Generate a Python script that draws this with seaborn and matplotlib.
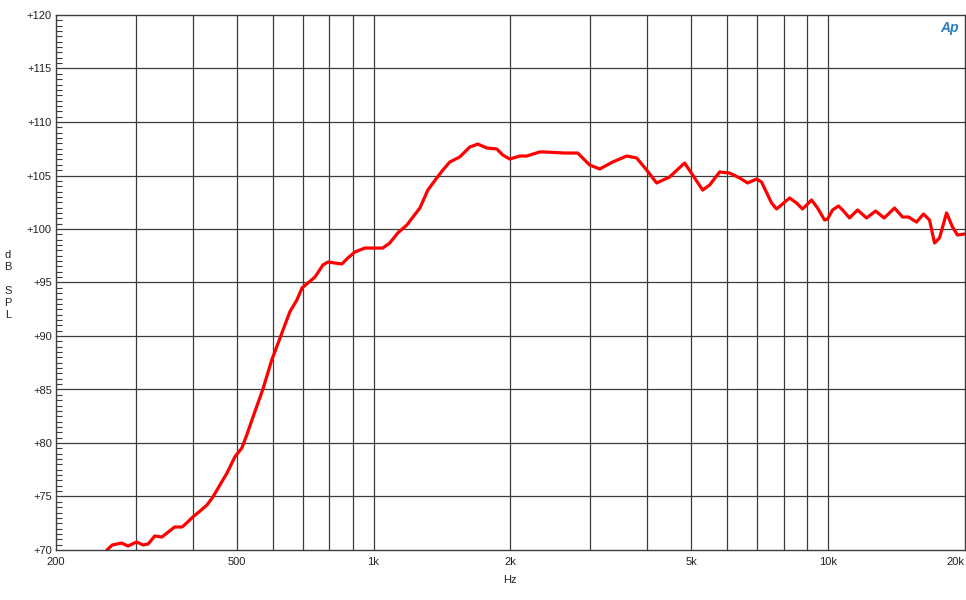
import numpy as np
import pandas as pd
import matplotlib
matplotlib.use("Agg")
import matplotlib.pyplot as plt
import matplotlib.ticker as mticker
import seaborn as sns

# frequency response (Hz, dB SPL)
freq_hz = [259, 266, 279, 288, 301, 311, 319, 330, 342, 365, 379, 390, 400, 415, 430,
           443, 459, 476, 495, 513, 526, 540, 571, 597, 625, 654, 678, 696, 717, 743,
           774, 794, 822, 852, 878, 910, 957, 1022, 1048, 1086, 1131, 1184, 1265, 1317,
           1378, 1421, 1472, 1548, 1629, 1697, 1776, 1868, 1925, 1995, 2099, 2174, 2322,
           2382, 2636, 2815, 2992, 3148, 3361, 3609, 3796, 3993, 4200, 4485, 4840, 5041,
           5303, 5495, 5780, 6080, 6397, 6661, 6971, 7149, 7521, 7714, 7952, 8241, 8538,
           8802, 8982, 9212, 9496, 9840, 9991, 10247, 10563, 10779, 11169, 11631, 12173,
           12741, 13313, 14028, 14610, 15060, 15680, 16250, 16750, 17180, 17620, 18260,
           18820, 19300, 20000]
spl_db = [70.0, 70.47, 70.65, 70.37, 70.75, 70.47, 70.56, 71.31, 71.21, 72.15, 72.15,
          72.62, 73.08, 73.64, 74.21, 74.95, 76.07, 77.2, 78.69, 79.53, 80.75, 82.15,
          85.05, 87.76, 90.0, 92.24, 93.36, 94.49, 94.95, 95.51, 96.64, 96.92, 96.82,
          96.73, 97.29, 97.85, 98.22, 98.22, 98.22, 98.69, 99.63, 100.37, 101.96, 103.64,
          104.77, 105.51, 106.26, 106.73, 107.66, 107.94, 107.57, 107.48, 106.92, 106.54,
          106.82, 106.82, 107.2, 107.2, 107.1, 107.1, 105.98, 105.61, 106.26, 106.82,
          106.64, 105.51, 104.3, 104.86, 106.17, 105.05, 103.64, 104.11, 105.33, 105.23,
          104.77, 104.3, 104.67, 104.39, 102.43, 101.87, 102.34, 102.9, 102.43, 101.87,
          102.24, 102.71, 101.96, 100.84, 100.93, 101.78, 102.15, 101.78, 101.03, 101.78,
          101.03, 101.68, 101.03, 101.96, 101.12, 101.12, 100.65, 101.4, 100.84, 98.69,
          99.16, 101.5, 100.19, 99.44, 99.53]

x_ticks = [200, 500, 1000, 2000, 5000, 10000, 20000]
x_tick_labels = ["200", "500", "1k", "2k", "5k", "10k", "20k"]
x_grid = [300, 400, 600, 700, 800, 900, 3000, 4000, 6000, 7000, 8000, 9000]
y_ticks = [70, 75, 80, 85, 90, 95, 100, 105, 110, 115, 120]

sns.set_style("white")
plt.rcParams["font.family"] = ["Liberation Sans", "DejaVu Sans"]

df = pd.DataFrame({"Hz": freq_hz, "dB": spl_db})

fig = plt.figure(figsize=(9.66, 6.0), dpi=100)
ax = fig.add_axes([56 / 966, 1 - 550 / 600, (964.5 - 56) / 966, (550 - 15) / 600])

sns.lineplot(data=df, x="Hz", y="dB", color="#ff0000", linewidth=2.3, ax=ax)

ax.set_xscale("log")
ax.set_xlim(200, 20000)
ax.set_ylim(70, 120)

gc = "#3c3c3c"
ax.xaxis.set_major_locator(mticker.FixedLocator(x_ticks))
ax.xaxis.set_major_formatter(mticker.FixedFormatter(x_tick_labels))
ax.xaxis.set_minor_locator(mticker.NullLocator())
ax.set_yticks(y_ticks)
ax.set_yticklabels([f"+{v}" for v in y_ticks])
ax.yaxis.set_minor_locator(mticker.MultipleLocator(0.5))

for v in x_ticks[1:-1] + x_grid:
    ax.axvline(v, color=gc, linewidth=0.9, zorder=0)
for v in y_ticks[1:-1]:
    ax.axhline(v, color=gc, linewidth=0.9, zorder=0)

ax.tick_params(axis="x", which="major", length=0, pad=5, labelsize=8, colors="#222222")
ax.tick_params(axis="y", which="major", length=0, pad=3, labelsize=8, colors="#222222")
ax.tick_params(axis="y", which="minor", direction="in", length=4, width=0.8, color=gc, left=True)
ax.get_xticklabels()[-1].set_ha("right")

for s in ax.spines.values():
    s.set_color(gc)
    s.set_linewidth(1.0)

ax.set_xlabel("Hz", fontsize=8, color="#222222", labelpad=6)
ax.set_ylabel("")
fig.text(8 / 966, 1 - 285 / 600, "d\nB\n\nS\nP\nL", fontsize=8, color="#222222",
         ha="center", va="center", linespacing=1.25)

# Ap logo
fig.text(950 / 966, 1 - 28 / 600, "Ap", fontsize=10, color="#2a7fc0", style="italic",
         fontweight="bold", ha="center", va="center")

fig.savefig("out.png", dpi=100)
